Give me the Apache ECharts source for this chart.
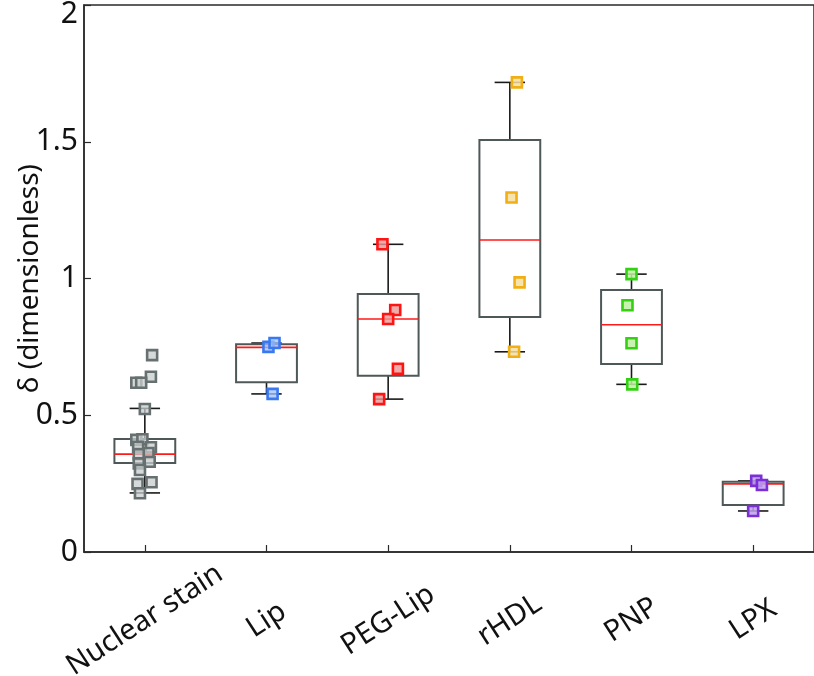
<!DOCTYPE html>
<html>
<head>
<meta charset="utf-8">
<script src="https://cdn.jsdelivr.net/npm/echarts@6/dist/echarts.min.js"></script>
<style>html,body{margin:0;padding:0;background:#fff}#c{width:814px;height:676px}</style>
</head>
<body>
<div id="c"></div>
<script>
var categories = ['Nuclear stain', 'Lip', 'PEG-Lip', 'rHDL', 'PNP', 'LPX'];
var yTicks = [0, 0.5, 1, 1.5, 2];
// box statistics per category
var whiskerLow  = [0.216, 0.578, 0.559, 0.732, 0.613, 0.150];
var q1          = [0.325, 0.621, 0.644, 0.859, 0.687, 0.172];
var median      = [0.358, 0.748, 0.852, 1.141, 0.831, 0.249];
var q3          = [0.413, 0.760, 0.943, 1.506, 0.958, 0.257];
var whiskerHigh = [0.525, 0.764, 1.125, 1.717, 1.016, 0.260];
// individual points (value) and horizontal jitter (category units)
var nuclearVals   = [0.720, 0.641, 0.619, 0.619, 0.523, 0.410, 0.412, 0.385, 0.383, 0.362, 0.358, 0.330, 0.324, 0.300, 0.255, 0.249, 0.215];
var nuclearJitter = [0.06, 0.05, -0.07, -0.03, 0.0, -0.07, -0.02, -0.055, 0.05, 0.03, -0.05, 0.04, -0.05, -0.04, 0.055, -0.06, -0.04];
var lipVals   = [0.750, 0.764, 0.578];
var lipJitter = [0.016, 0.066, 0.05];
var pegVals   = [1.125, 0.885, 0.852, 0.670, 0.559];
var pegJitter = [-0.047, 0.058, 0.0, 0.08, -0.074];
var rhdlVals   = [1.717, 1.296, 0.986, 0.732];
var rhdlJitter = [0.058, 0.014, 0.08, 0.035];
var pnpVals   = [1.016, 0.902, 0.763, 0.613];
var pnpJitter = [0.0, -0.033, 0.0, 0.006];
var lpxVals   = [0.260, 0.245, 0.150];
var lpxJitter = [0.025, 0.072, 0.0];

var groups = [
  {vals: nuclearVals, jit: nuclearJitter, border: '#677070', fill: 'rgba(200,204,204,0.75)'},
  {vals: lipVals, jit: lipJitter, border: '#3a78f2', fill: 'rgba(160,192,248,0.75)'},
  {vals: pegVals, jit: pegJitter, border: '#ff1414', fill: 'rgba(236,150,150,0.8)'},
  {vals: rhdlVals, jit: rhdlJitter, border: '#f0b015', fill: 'rgba(246,222,160,0.85)'},
  {vals: pnpVals, jit: pnpJitter, border: '#33d014', fill: 'rgba(190,240,160,0.85)'},
  {vals: lpxVals, jit: lpxJitter, border: '#7b2fd6', fill: 'rgba(192,160,236,0.85)'}
];

var boxData = categories.map(function (c, i) {
  return [i, whiskerLow[i], q1[i], median[i], q3[i], whiskerHigh[i]];
});

var font = 'Noto Sans';
var axisColor = '#2a2a2a';
var series = [{
  type: 'custom',
  xAxisIndex: 1,
  data: boxData,
  encode: {x: 0, y: [1, 2, 3, 4, 5]},
  z: 2,
  renderItem: function (params, api) {
    var x = api.value(0);
    var band = api.size([1, 0])[0];
    var hw = band * 0.25, cw = band * 0.125;
    var pLo = api.coord([x, api.value(1)]);
    var pQ1 = api.coord([x, api.value(2)]);
    var pMd = api.coord([x, api.value(3)]);
    var pQ3 = api.coord([x, api.value(4)]);
    var pHi = api.coord([x, api.value(5)]);
    var cx = pLo[0];
    var blk = {stroke: '#1a1a1a', lineWidth: 1.6};
    return {
      type: 'group',
      children: [
        {type: 'line', shape: {x1: cx, y1: pLo[1], x2: cx, y2: pQ1[1]}, style: blk},
        {type: 'line', shape: {x1: cx, y1: pQ3[1], x2: cx, y2: pHi[1]}, style: blk},
        {type: 'line', shape: {x1: cx - cw, y1: pLo[1], x2: cx + cw, y2: pLo[1]}, style: blk},
        {type: 'line', shape: {x1: cx - cw, y1: pHi[1], x2: cx + cw, y2: pHi[1]}, style: blk},
        {type: 'rect', shape: {x: cx - hw, y: pQ3[1], width: 2 * hw, height: pQ1[1] - pQ3[1]},
          style: {fill: 'none', stroke: '#4f5858', lineWidth: 2}},
        {type: 'line', shape: {x1: cx - hw, y1: pMd[1], x2: cx + hw, y2: pMd[1]},
          style: {stroke: '#ff1a1a', lineWidth: 1.6}}
      ]
    };
  }
}];

groups.forEach(function (g, i) {
  series.push({
    type: 'scatter',
    xAxisIndex: 1,
    symbol: 'rect',
    symbolSize: 10,
    z: 5,
    itemStyle: {color: g.fill, borderColor: g.border, borderWidth: 2.6, opacity: 1},
    data: g.vals.map(function (v, k) { return [i + g.jit[k], v]; })
  });
});

var chart = echarts.init(document.getElementById('c'), null, {renderer: 'canvas'});
chart.setOption({
  animation: false,
  backgroundColor: '#fff',
  grid: {left: 84, right: 0, top: 5, bottom: 124, containLabel: false, outerBoundsMode: 'none',
    show: true, borderColor: axisColor, borderWidth: 1.5},
  xAxis: [{
    type: 'category',
    data: categories,
    boundaryGap: true,
    axisLine: {show: true, onZero: false, lineStyle: {color: axisColor, width: 1.5}},
    axisTick: {show: true, inside: true, alignWithLabel: true, interval: 0, length: 7,
      lineStyle: {color: axisColor, width: 1.2}},
    axisLabel: {interval: 0, rotate: 33, align: 'center', verticalAlign: 'middle', margin: 68,
      fontFamily: font, fontSize: 29, color: '#111'},
    splitLine: {show: false}
  }, {
    type: 'value', min: -0.5, max: 5.5, show: false, splitLine: {show: false},
    axisLine: {onZero: false}
  }],
  yAxis: {
    type: 'value', min: yTicks[0], max: yTicks[yTicks.length - 1], interval: 0.5,
    name: 'δ (dimensionless)', nameLocation: 'middle', nameGap: 40, nameMoveOverlap: false,
    nameTextStyle: {fontFamily: font, fontSize: 28, color: '#111'},
    axisLine: {show: true, onZero: false, lineStyle: {color: axisColor, width: 1.5}},
    axisTick: {show: true, inside: true, length: 7, lineStyle: {color: axisColor, width: 1.2}},
    axisLabel: {margin: 6, fontFamily: font, fontSize: 30, color: '#111',
      formatter: function (v) { return v === 2 ? '{t|2}' : String(v); },
      rich: {t: {fontFamily: font, fontSize: 30, color: '#111', padding: [18, 0, 0, 0]}}},
    splitLine: {show: false}
  },
  series: series
});
</script>
</body>
</html>
